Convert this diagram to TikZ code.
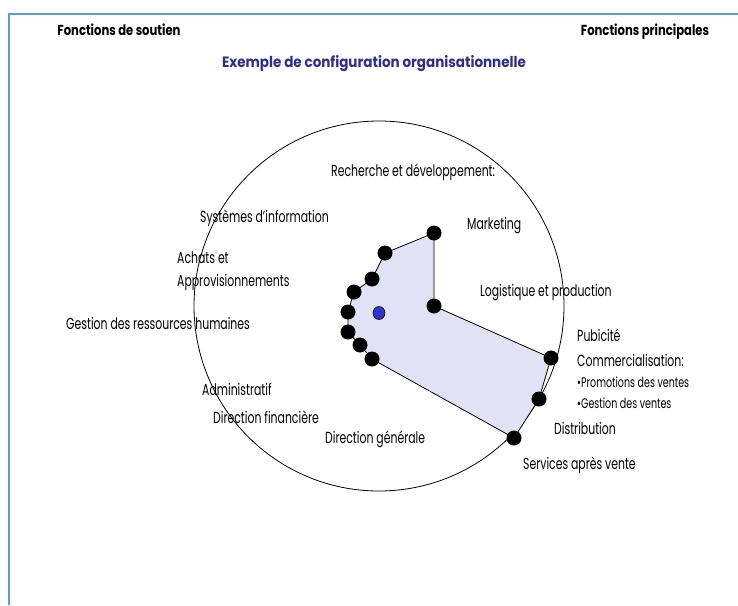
\documentclass[tikz,border=0pt]{standalone}
\usepackage{fontspec}
\usetikzlibrary{shapes.geometric}
\setmainfont{Poppins}[FakeStretch=0.68]
\newfontfamily\headfont{Poppins}[FakeStretch=0.8]
\newfontfamily\titlefont{Poppins}[FakeStretch=0.9]
\definecolor{framec}{HTML}{5B9BD5}
\definecolor{titlec}{HTML}{2E2E8F}
\definecolor{fillc}{HTML}{E2E2F6}
\definecolor{bluedot}{HTML}{3333CC}
\begin{document}
\begin{tikzpicture}[x=1pt,y=-1pt,
  lbl/.style={anchor=base west,inner sep=0pt,font=\fontsize{16}{18}\selectfont},
  small/.style={anchor=base west,inner sep=0pt,font=\fontsize{14}{16}\selectfont},
  head/.style={anchor=base,inner sep=0pt,font=\headfont\fontsize{14.5}{16}\selectfont\bfseries},
  dot/.style={circle,fill=black,inner sep=0pt,minimum size=15pt},
  cdot/.style={ellipse,draw=black,line width=0.6pt,fill=bluedot,inner sep=0pt,minimum width=12pt,minimum height=13pt}]
\useasboundingbox (0,0) rectangle (738,605);
% frame
\draw[framec,line width=2pt] (8,14) -- (738,14);
\draw[framec,line width=2pt] (9,14) -- (9,605);
% headers
\node[head] (hs) at (119,35) {Fonctions de soutien};
\node[head] (hp) at (645,35) {Fonctions principales};
\node[head,text=titlec,font=\titlefont\fontsize{15}{17}\selectfont\bfseries] (ti) at (374,67) {Exemple de configuration organisationnelle};
% circle
\draw[line width=0.8pt] (379,306) circle (185);
% polygon
\coordinate (q1) at (434,233);
\coordinate (q2) at (385,253);
\coordinate (q3) at (372,279);
\coordinate (q4) at (354,292);
\coordinate (q5) at (348,312);
\coordinate (q6) at (348,332);
\coordinate (q7) at (360,345);
\coordinate (q8) at (372,359);
\coordinate (q9) at (514,438);
\coordinate (q10) at (539,399);
\coordinate (q11) at (551,358);
\coordinate (q12) at (434,306);
\filldraw[fill=fillc,draw=black,line width=0.8pt] (q1) -- (q2) -- (q3) -- (q4) -- (q5) -- (q6) -- (q7) -- (q8) -- (q9) -- (q10) -- (q11) -- (q12) -- cycle;
\foreach \i in {1,...,12} \node[dot] (d\i) at (q\i) {};
\node[cdot] (c) at (379,313) {};
% labels
\node[lbl] (rd) at (331,176) {Recherche et développement:};
\node[lbl] (mk) at (467,229) {Marketing};
\node[lbl] (si) at (200,222) {Systèmes d’information};
\node[lbl] (aa) at (177,263) {Achats et};
\node[lbl] (ap) at (177,286) {Approvisionnements};
\node[lbl] (gr) at (66,329) {Gestion des ressources humaines};
\node[lbl] (lp) at (480,296) {Logistique et production};
\node[lbl] (pu) at (577,341) {Pubicité};
\node[lbl] (co) at (577,366) {Commercialisation:};
\node[small] (pv) at (577,387) {•Promotions des ventes};
\node[small] (gv) at (577,408) {•Gestion des ventes};
\node[lbl] (di) at (554,434) {Distribution};
\node[lbl] (sa) at (523,469) {Services après vente};
\node[lbl] (ad) at (202,395) {Administratif};
\node[lbl] (df) at (213,423) {Direction financière};
\node[lbl] (dg) at (325,443) {Direction générale};
\end{tikzpicture}
\end{document}
